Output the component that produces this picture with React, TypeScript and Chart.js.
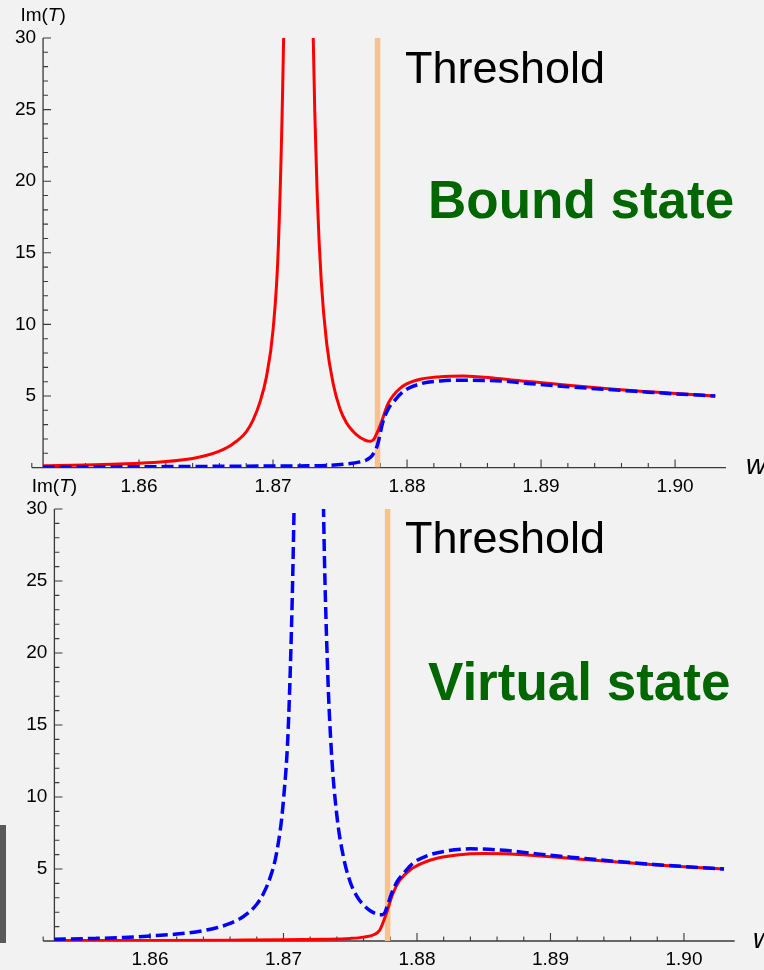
import React, { useEffect, useRef } from "react";
import { Chart, registerables } from "chart.js";
Chart.register(...registerables);

// ---------- data ----------
const X_AXIS_START = 1.852; // left end of the drawn x axis
const X_MAX = 1.9038;
const Y_AXIS_AT = 1.85284; // where the y axis crosses (left edge of plot area)
const Y_MIN = 0;
const Y_MAX = 30;
const X_MINOR_STEP = 0.002;
const X_MAJOR_STEP = 0.01;
const Y_MINOR_STEP = 1;
const Y_MAJOR_STEP = 5;
const THRESHOLD_W = 1.8778;
const THRESHOLD_SPAN = [0, 30];

// Bound state (top panel)
const W_RED_BOUND = [1.8528, 1.854, 1.856, 1.858, 1.860, 1.862, 1.864, 1.865, 1.866, 1.867, 1.868, 1.8685, 1.869, 1.8695, 1.870, 1.8704, 1.8708, 1.8710, 1.8714, 1.8719, 1.8724, 1.8728, 1.8730, 1.8733, 1.8736, 1.8740, 1.8745, 1.8750, 1.8755, 1.8760, 1.8765, 1.8768, 1.8771, 1.8773, 1.8775, 1.8777, 1.8780, 1.8786, 1.8795, 1.8807, 1.8825, 1.8842, 1.8867, 1.8892, 1.892, 1.895, 1.898, 1.900, 1.903];
const V_RED_BOUND = [0.12, 0.15, 0.19, 0.24, 0.3, 0.42, 0.64, 0.84, 1.15, 1.65, 2.5, 3.3, 4.5, 6.3, 9.6, 15.5, 30.5, 45, 90, 150, 90, 45, 30, 19, 13, 8.7, 5.8, 4.1, 3.1, 2.5, 2.1, 1.95, 1.85, 1.84, 1.95, 2.3, 2.95, 4.5, 5.55, 6.1, 6.35, 6.4, 6.23, 6.0, 5.75, 5.5, 5.3, 5.18, 5.0];
const W_BLUE_BOUND = [1.8528, 1.858, 1.864, 1.868, 1.872, 1.874, 1.8755, 1.8765, 1.8770, 1.8774, 1.8778, 1.8782, 1.8786, 1.8790, 1.8797, 1.8810, 1.8825, 1.8840, 1.8870, 1.8890, 1.892, 1.895, 1.898, 1.900, 1.903];
const V_BLUE_BOUND = [0.03, 0.05, 0.08, 0.1, 0.12, 0.15, 0.25, 0.4, 0.55, 0.85, 1.6, 3.2, 4.1, 4.6, 5.3, 5.85, 6.05, 6.1, 6.05, 5.88, 5.65, 5.45, 5.27, 5.15, 5.0];

// Virtual state (bottom panel)
const W_BLUE_VIRTUAL = [1.8528, 1.856, 1.858, 1.860, 1.862, 1.864, 1.865, 1.866, 1.867, 1.868, 1.8685, 1.869, 1.8695, 1.870, 1.8704, 1.8708, 1.8710, 1.8714, 1.8719, 1.8724, 1.8728, 1.8730, 1.8733, 1.8736, 1.8740, 1.8745, 1.8750, 1.8755, 1.8760, 1.8765, 1.8769, 1.8772, 1.8774, 1.8776, 1.8778, 1.8781, 1.8785, 1.8790, 1.8797, 1.8807, 1.8822, 1.8840, 1.8865, 1.8890, 1.892, 1.895, 1.898, 1.900, 1.903];
const V_BLUE_VIRTUAL = [0.12, 0.18, 0.24, 0.35, 0.48, 0.72, 0.92, 1.22, 1.7, 2.55, 3.3, 4.4, 6.2, 9.8, 15.8, 30.5, 45, 90, 150, 90, 45, 30, 19, 13, 8.7, 5.8, 4.1, 3.1, 2.5, 2.1, 1.9, 1.82, 1.83, 1.98, 2.5, 3.3, 4.1, 4.7, 5.4, 5.9, 6.25, 6.4, 6.3, 6.05, 5.78, 5.52, 5.3, 5.17, 5.0];
const W_RED_VIRTUAL = [1.8528, 1.860, 1.866, 1.870, 1.873, 1.875, 1.876, 1.8768, 1.8772, 1.8777, 1.8782, 1.8787, 1.8795, 1.8805, 1.8815, 1.8830, 1.8850, 1.8870, 1.8890, 1.892, 1.895, 1.898, 1.900, 1.903];
const V_RED_VIRTUAL = [0.03, 0.04, 0.06, 0.08, 0.12, 0.18, 0.27, 0.45, 0.75, 1.9, 3.3, 4.2, 4.95, 5.45, 5.75, 5.98, 6.08, 6.05, 5.92, 5.7, 5.48, 5.28, 5.15, 5.0];

const STATE_LABELS = ["Bound state", "Virtual state"];
const THRESHOLD_LABEL = "Threshold";
const Y_LABEL_PARTS = ["Im(", "T", ")"];
const X_LABEL = "w";

// ---------- style ----------
const FONT = '"Liberation Sans", Arial, Helvetica, sans-serif';
const BG = "#F2F2F2";
const AXIS_COLOR = "#3a3a3a";
const RED = "#FF0000";
const BLUE = "#0000FF";
const THRESH_COLOR = "#F7C28F";
const GREEN = "#006600";

const toPts = (ws: number[], vs: number[]) => ws.map((w, i) => ({ x: w, y: vs[i] }));
const onGrid = (v: number, step: number) => {
  const k = v / step;
  return Math.abs(k - Math.round(k)) < 1e-6;
};

type Geo = {
  top: number;
  right: number;
  yAxisWidth: number;
  xAxisHeight: number;
  xLabelPad: number;
  stateLabel: string;
  stateBaseline: number;
  threshBaseline: number;
  wX: number;
  wBaseline: number;
};

function makeConfig(geo: Geo, series: { ws: number[]; vs: number[]; color: string; dashed: boolean }[]) {
  const plugin = {
    id: "mmaAxes",
    beforeDatasetsDraw(chart: any) {
      const ctx = chart.ctx;
      const xs = chart.scales.x;
      const ys = chart.scales.y;
      const y0 = ys.getPixelForValue(Y_MIN);
      const xa = xs.getPixelForValue(Y_AXIS_AT);
      ctx.save();
      ctx.strokeStyle = AXIS_COLOR;
      ctx.lineWidth = 1.3;
      ctx.beginPath();
      ctx.moveTo(xs.getPixelForValue(X_AXIS_START), y0);
      ctx.lineTo(xs.getPixelForValue(X_MAX), y0);
      ctx.moveTo(xa, y0);
      ctx.lineTo(xa, ys.getPixelForValue(Y_MAX));
      ctx.stroke();
      ctx.lineWidth = 1.1;
      ctx.beginPath();
      const xTickVals = [X_AXIS_START, ...xs.ticks.map((t: any) => t.value)];
      xTickVals.forEach((v: number) => {
        if (!onGrid(v, X_MINOR_STEP)) return;
        const major = onGrid(v, X_MAJOR_STEP);
        const px = xs.getPixelForValue(v);
        ctx.moveTo(px, y0);
        ctx.lineTo(px, y0 - (major ? 8 : 4.5));
      });
      ys.ticks.forEach((t: any) => {
        if (t.value === Y_MIN || !onGrid(t.value, Y_MINOR_STEP)) return;
        const major = onGrid(t.value, Y_MAJOR_STEP);
        const py = ys.getPixelForValue(t.value);
        ctx.moveTo(xa, py);
        ctx.lineTo(xa + (major ? 8 : 5), py);
      });
      ctx.stroke();
      ctx.restore();
    },
    afterDraw(chart: any) {
      const ctx = chart.ctx;
      const xs = chart.scales.x;
      const xa = xs.getPixelForValue(Y_AXIS_AT);
      const area = chart.chartArea;
      ctx.save();
      ctx.fillStyle = "#000";
      ctx.textBaseline = "alphabetic";
      // Im(T)
      const f = `19px ${FONT}`;
      const fi = `italic 19px ${FONT}`;
      ctx.font = f;
      const w1 = ctx.measureText(Y_LABEL_PARTS[0]).width;
      const w3 = ctx.measureText(Y_LABEL_PARTS[2]).width;
      ctx.font = fi;
      const w2 = ctx.measureText(Y_LABEL_PARTS[1]).width;
      let lx = xa - (w1 + w2 + w3) / 2;
      const ly = area.top - 17;
      ctx.font = f;
      ctx.fillText(Y_LABEL_PARTS[0], lx, ly);
      lx += w1;
      ctx.font = fi;
      ctx.fillText(Y_LABEL_PARTS[1], lx, ly);
      lx += w2;
      ctx.font = f;
      ctx.fillText(Y_LABEL_PARTS[2], lx, ly);
      // w
      ctx.font = `italic 28px ${FONT}`;
      ctx.fillText(X_LABEL, geo.wX, geo.wBaseline);
      // Threshold
      ctx.font = `45px ${FONT}`;
      ctx.fillText(THRESHOLD_LABEL, 405, geo.threshBaseline);
      // state
      ctx.font = `bold 53px ${FONT}`;
      ctx.fillStyle = GREEN;
      ctx.fillText(geo.stateLabel, 428, geo.stateBaseline);
      ctx.restore();
    },
  };

  const datasets: any[] = series.map((s) => ({
    data: toPts(s.ws, s.vs),
    borderColor: s.color,
    borderWidth: s.dashed ? 3.5 : 3,
    borderDash: s.dashed ? [12, 5] : [],
    pointRadius: 0,
    fill: false,
    cubicInterpolationMode: "monotone",
  }));
  datasets.push({
    data: THRESHOLD_SPAN.map((v) => ({ x: THRESHOLD_W, y: v })),
    borderColor: THRESH_COLOR,
    borderWidth: 5.5,
    borderCapStyle: "butt",
    pointRadius: 0,
    fill: false,
  });

  return {
    type: "line" as const,
    data: { datasets },
    plugins: [plugin],
    options: {
      animation: false,
      responsive: false,
      devicePixelRatio: 1,
      events: [],
      layout: { padding: { top: geo.top, right: geo.right, left: 0, bottom: 0 } },
      plugins: { legend: { display: false }, tooltip: { enabled: false }, title: { display: false } },
      scales: {
        x: {
          type: "linear",
          min: Y_AXIS_AT,
          max: X_MAX,
          grid: { display: false, drawTicks: false },
          border: { display: false },
          afterFit: (s: any) => {
            s.height = geo.xAxisHeight;
          },
          ticks: {
            stepSize: X_MINOR_STEP,
            autoSkip: false,
            maxRotation: 0,
            padding: geo.xLabelPad,
            color: "#000",
            font: { family: FONT, size: 19 },
            callback: (v: any) => (onGrid(Number(v), X_MAJOR_STEP) ? Number(v).toFixed(2) : ""),
          },
        },
        y: {
          type: "linear",
          min: Y_MIN,
          max: Y_MAX,
          grid: { display: false, drawTicks: false },
          border: { display: false },
          afterFit: (s: any) => {
            s.width = geo.yAxisWidth;
          },
          ticks: {
            stepSize: Y_MINOR_STEP,
            autoSkip: false,
            padding: 7,
            color: "#000",
            font: { family: FONT, size: 19 },
            callback: (v: any) => {
              const n = Number(v);
              return n !== 0 && onGrid(n, Y_MAJOR_STEP) ? String(Math.round(n)) : "";
            },
          },
        },
      },
    },
  };
}

const TOP_GEO: Geo = {
  top: 38,
  right: 38,
  yAxisWidth: 43.06,
  xAxisHeight: 32.4,
  xLabelPad: 8,
  stateLabel: STATE_LABELS[0],
  stateBaseline: 218,
  threshBaseline: 83,
  wX: 746,
  wBaseline: 474,
};

const BOTTOM_GEO: Geo = {
  top: 39,
  right: 29.3,
  yAxisWidth: 54.4,
  xAxisHeight: 29,
  xLabelPad: 7,
  stateLabel: STATE_LABELS[1],
  stateBaseline: 230,
  threshBaseline: 83,
  wX: 753,
  wBaseline: 478,
};

export default function App() {
  const topRef = useRef<HTMLCanvasElement>(null);
  const botRef = useRef<HTMLCanvasElement>(null);

  useEffect(() => {
    document.body.style.margin = "0";
    document.body.style.background = BG;
    const c1 = new Chart(
      topRef.current as HTMLCanvasElement,
      makeConfig(TOP_GEO, [
        { ws: W_BLUE_BOUND, vs: V_BLUE_BOUND, color: BLUE, dashed: true },
        { ws: W_RED_BOUND, vs: V_RED_BOUND, color: RED, dashed: false },
      ]) as any
    );
    const c2 = new Chart(
      botRef.current as HTMLCanvasElement,
      makeConfig(BOTTOM_GEO, [
        { ws: W_BLUE_VIRTUAL, vs: V_BLUE_VIRTUAL, color: BLUE, dashed: true },
        { ws: W_RED_VIRTUAL, vs: V_RED_VIRTUAL, color: RED, dashed: false },
      ]) as any
    );
    return () => {
      c1.destroy();
      c2.destroy();
    };
  }, []);

  return (
    <div style={{ position: "absolute", left: 0, top: 0, width: 764, height: 970, background: BG, overflow: "hidden" }}>
      <canvas ref={topRef} width={764} height={500} style={{ position: "absolute", left: 0, top: 0, width: 764, height: 500 }} />
      <canvas ref={botRef} width={764} height={500} style={{ position: "absolute", left: 0, top: 470, width: 764, height: 500 }} />
      <div style={{ position: "absolute", left: 0, top: 825, width: 6, height: 118, background: "#595959" }} />
    </div>
  );
}
